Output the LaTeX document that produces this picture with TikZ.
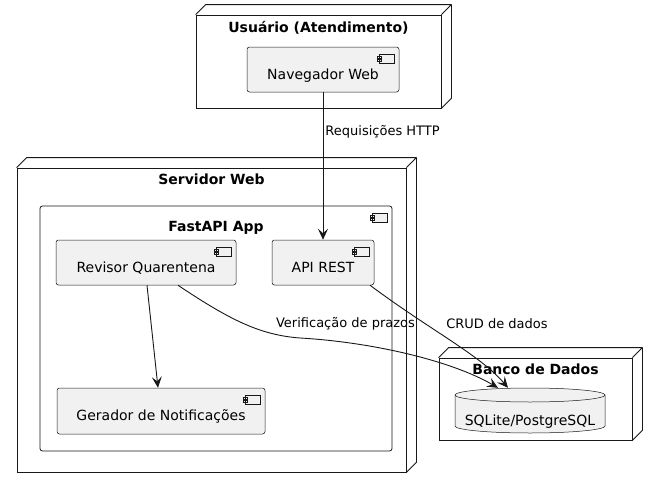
\documentclass[tikz,border=0pt]{standalone}
\usepackage{fontspec}
\setmainfont{DejaVu Sans}
\usetikzlibrary{arrows.meta,calc}
\definecolor{umlfill}{HTML}{F1F1F1}
\definecolor{umlline}{HTML}{181818}
\newcommand{\myicon}{%
  \draw[umlline, line width=0.5pt, fill=umlfill, sharp corners]
    ($(path picture bounding box.north east)+(-20,7)$) rectangle ++(15,9)
    ($(path picture bounding box.north east)+(-22,9)$) rectangle ++(4,2)
    ($(path picture bounding box.north east)+(-22,12.5)$) rectangle ++(4,2);}
\begin{document}
\begin{tikzpicture}[x=1pt,y=-1pt,
  every node/.style={inner sep=0pt},
  comp/.style={draw=umlline, fill=umlfill, line width=0.5pt, rounded corners=2.5pt,
    font=\fontsize{14}{16}\selectfont, text height=22pt, text depth=3pt,
    path picture={\myicon}},
  cont/.style={draw=umlline, fill=white, line width=0.8pt, rounded corners=2.5pt,
    path picture={\myicon}},
  box3d/.style={draw=umlline, fill=white, line width=0.8pt},
  face3d/.style={draw=umlline, line width=0.8pt, line join=round},
  title/.style={anchor=base, font=\bfseries\fontsize{14}{16}\selectfont},
  conn/.style={draw=umlline, line width=0.9pt, -{Stealth[length=11pt,width=10pt,inset=4.5pt]}},
  lbl/.style={font=\fontsize{13}{15}\selectfont}
]
\fill[white] (0,0) rectangle (657,490);
\useasboundingbox (0,0) rectangle (657,490);

% Usuario node
\node[box3d, minimum width=245pt, minimum height=93pt,
  label={[title, yshift=-18pt]north:Usuário (Atendimento)}] (usr) at (318.5,61.5) {};
\draw[face3d] (usr.north west) -- ++(10,-10) -- ($(usr.north east)+(10,-10)$) -- (usr.north east)
  ($(usr.north east)+(10,-10)$) -- ($(usr.south east)+(10,-10)$) -- (usr.south east);

% Servidor Web node
\node[box3d, minimum width=389pt, minimum height=304pt,
  label={[title, yshift=-17pt]north:Servidor Web}] (srv) at (211.5,320) {};
\draw[face3d] (srv.north west) -- ++(10,-10) -- ($(srv.north east)+(10,-10)$) -- (srv.north east)
  ($(srv.north east)+(10,-10)$) -- ($(srv.south east)+(10,-10)$) -- (srv.south east);

% Banco de Dados node
\node[box3d, minimum width=193pt, minimum height=82pt,
  label={[title, yshift=-17pt]north:Banco de Dados}] (bd) at (535.5,399) {};
\draw[face3d] (bd.north west) -- ++(10,-10) -- ($(bd.north east)+(10,-10)$) -- (bd.north east)
  ($(bd.north east)+(10,-10)$) -- ($(bd.south east)+(10,-10)$) -- (bd.south east);

% FastAPI App container
\node[cont, minimum width=352pt, minimum height=245pt,
  label={[title, yshift=-26pt]north:FastAPI App}] (app) at (216,328.5) {};

% components
\node[comp, minimum width=152pt, minimum height=45pt] (nav) at (323,69.5) {Navegador Web};
\node[comp, minimum width=180pt, minimum height=45pt] (rev) at (146,262.5) {Revisor Quarentena};
\node[comp, minimum width=102pt, minimum height=45pt] (api) at (323,262.5) {API REST};
\node[comp, minimum width=208pt, minimum height=46pt] (ger) at (161,411) {Gerador de Notificações};

% database cylinder
\filldraw[draw=umlline, fill=umlfill, line width=0.5pt]
  (455,395) -- (455,426) arc[start angle=180, end angle=360, x radius=75pt, y radius=7pt]
  -- (605,395) arc[start angle=0, end angle=180, x radius=75pt, y radius=7pt] -- cycle;
\draw[umlline, line width=0.5pt] (455,395) arc[start angle=180, end angle=360, x radius=75pt, y radius=7pt];
\node[minimum width=150pt, minimum height=45pt, text height=32pt, text depth=3pt,
  font=\fontsize{14}{16}\selectfont] (db) at (530,410.5) {SQLite/PostgreSQL};

% connectors
\draw[conn] (nav.south) -- (api.north)
  node[lbl, pos=0.27, anchor=west, xshift=2pt] {Requisições HTTP};
\draw[conn] ([xshift=1pt]rev.south) -- ([xshift=-3pt]ger.north);
\draw[conn] ([xshift=32pt]rev.south) .. controls (230,320) and (260,335) .. (300,338)
  .. controls (370,342) and (450,360) .. ([xshift=-32pt]db.north);
\draw[conn] ([xshift=47pt]api.south) .. controls (430,330) and (480,355) .. ([xshift=-22pt]db.north);
\node[lbl] (lv) at (345.5,324) {Verificação de prazos};
\node[lbl] (lc) at (497,324) {CRUD de dados};
\end{tikzpicture}
\end{document}
